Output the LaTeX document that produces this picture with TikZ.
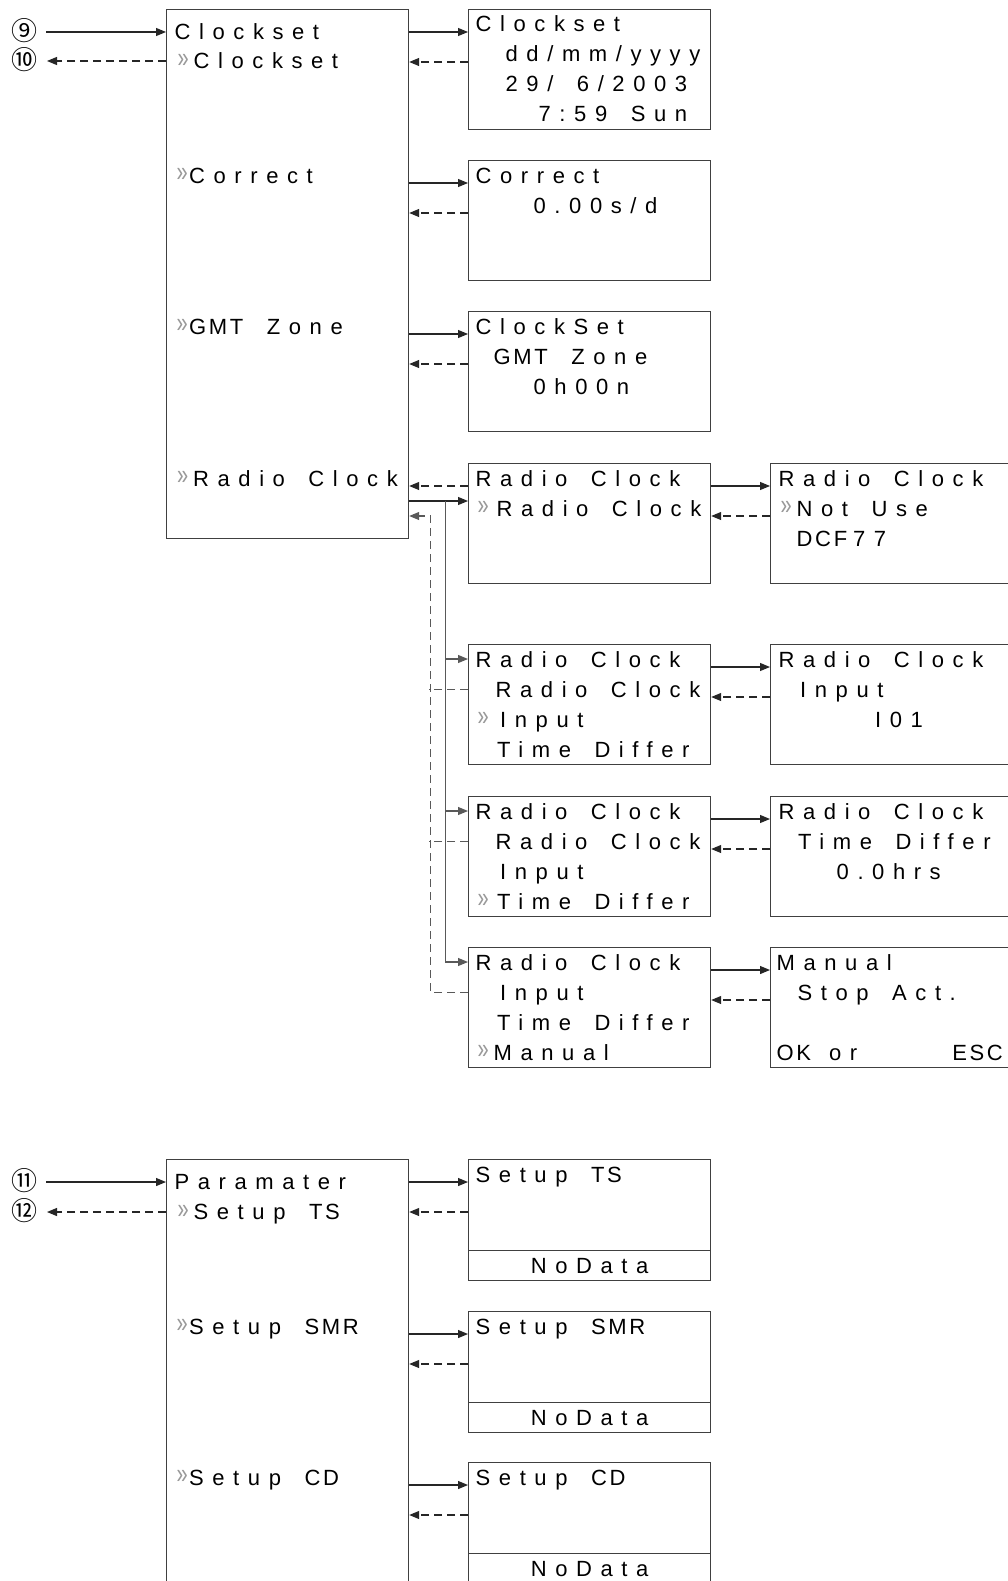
\documentclass[tikz,border=0pt]{standalone}
\usepackage{fontspec}
\usepackage{graphicx}
\usetikzlibrary{arrows.meta,calc}
\newfontfamily\lcd{Liberation Sans}[LetterSpace=39, WordSpace=1.6]
\newfontfamily\lcdt{Liberation Sans}[LetterSpace=12, WordSpace=1.6]
\newfontfamily\plainfont{Liberation Sans}
\newfontfamily\circfont{Noto Sans CJK SC}
\newcommand\tg[1]{{\lcdt #1}\hspace{6pt}}
\newcommand\selm{\raisebox{1.5pt}{\scalebox{1.0}[1.43]{»}}}
\begin{document}
\begin{tikzpicture}[x=1pt,y=-1pt,
  box/.style={draw=black!75, line width=1.2pt, rectangle, anchor=north west,
    minimum width=242pt, minimum height=120pt, inner sep=0pt},
  txt/.style={anchor=base west, inner sep=0pt, font={\fontsize{22}{26}\selectfont\lcd}},
  sel/.style={anchor=base west, inner sep=0pt, text=black!40, font={\fontsize{20}{24}\selectfont\plainfont}},
  circ/.style={anchor=center, inner sep=0pt, font={\fontsize{26}{30}\selectfont\circfont}},
  conn/.style={line width=1.1pt, draw=black!85, -{Triangle[length=10pt,width=8pt]}},
  back/.style={conn, dash pattern=on 8pt off 5pt},
  bus/.style={line width=1.1pt, draw=black!65},
  dbus/.style={bus, dash pattern=on 8pt off 5pt},
]
\useasboundingbox (0,0) rectangle (1008,1581);
\fill[white] (0,0) rectangle (1008,1581);

% ---------- boxes ----------
\node[box, minimum height=529pt] (L1) at (166,9) {};
\node[box] (R1) at (468,9) {};
\node[box] (R2) at (468,160) {};
\node[box] (R3) at (468,311) {};
\node[box] (R4) at (468,463) {};
\node[box] (R5) at (468,644) {};
\node[box] (R6) at (468,796) {};
\node[box] (R7) at (468,947) {};
\node[box] (Q4) at (770,463) {};
\node[box] (Q5) at (770,644) {};
\node[box] (Q6) at (770,796) {};
\node[box] (Q7) at (770,947) {};

\node[box, minimum height=440pt] (L2) at (166,1159) {};
\node[box, minimum height=121pt] (S1) at (468,1159) {};
\node[box, minimum height=121pt] (S2) at (468,1311) {};
\node[box, minimum height=121pt] (S3) at (468,1462) {};
\node[box, anchor=south west, minimum height=30pt, font={\fontsize{22}{26}\selectfont\lcd}] (S1n) at (S1.south west) {NoData};
\node[box, anchor=south west, minimum height=30pt, font={\fontsize{22}{26}\selectfont\lcd}] (S2n) at (S2.south west) {NoData};
\node[box, anchor=south west, minimum height=30pt, font={\fontsize{22}{26}\selectfont\lcd}] (S3n) at (S3.south west) {NoData};

% ---------- circled numbers ----------
\node[circ] (n9) at (24,31) {⑨};
\node[circ] (n10) at (24,60) {⑩};
\node[circ] (n11) at (24,1181) {⑪};
\node[circ] (n12) at (24,1211) {⑫};
\coordinate (c9) at (46,32);
\coordinate (c10) at (47,61);
\coordinate (c11) at (46,1182);
\coordinate (c12) at (47,1212);

% ---------- texts: left box 1 ----------
\node[txt] (l1a) at (174.5,39.5) {Clockset};
\node[sel] (l1bm) at (177.5,69) {\selm};
\node[txt] (l1b) at (193.5,69) {Clockset};
\node[sel] (l1cm) at (176.5,183) {\selm};
\node[txt] (l1c) at (189,183) {Correct};
\node[sel] (l1dm) at (176.5,334) {\selm};
\node[txt] (l1d) at (189,334) {{\lcdt GMT} Zone};
\node[sel] (l1em) at (177,486) {\selm};
\node[txt] (l1e) at (193,486) {Radio Clock};

% ---------- texts: column 1 ----------
\node[txt] (r1a) at (475.5,32) {Clockset};
\node[txt] (r1b) at (505.5,62) {dd/mm/yyyy};
\node[txt] (r1c) at (505.5,92) {29/ 6/2003};
\node[txt] (r1d) at (538.5,122) {7:59 Sun};

\node[txt] (r2a) at (475.5,183) {Correct};
\node[txt] (r2b) at (533.5,213) {0.00s/d};

\node[txt] (r3a) at (475.5,334) {ClockSet};
\node[txt] (r3b) at (493.5,364) {{\lcdt GMT} Zone};
\node[txt] (r3c) at (533.5,394) {0h00n};

\node[txt] (r4a) at (475.5,486) {Radio Clock};
\node[sel] (r4bm) at (477.5,516) {\selm};
\node[txt] (r4b) at (496.5,516) {Radio Clock};

\node[txt] (r5a) at (475.5,667) {Radio Clock};
\node[txt] (r5b) at (495.5,697) {Radio Clock};
\node[sel] (r5cm) at (477.5,727) {\selm};
\node[txt] (r5c) at (500,727) {Input};
\node[txt] (r5d) at (497,757) {Time Differ};

\node[txt] (r6a) at (475.5,819) {Radio Clock};
\node[txt] (r6b) at (495.5,849) {Radio Clock};
\node[txt] (r6c) at (500,879) {Input};
\node[sel] (r6dm) at (477.5,909) {\selm};
\node[txt] (r6d) at (497,909) {Time Differ};

\node[txt] (r7a) at (475.5,970) {Radio Clock};
\node[txt] (r7b) at (500,1000) {Input};
\node[txt] (r7c) at (497,1030) {Time Differ};
\node[sel] (r7dm) at (477.5,1060) {\selm};
\node[txt] (r7d) at (493.5,1060) {Manual};

% ---------- texts: column 2 ----------
\node[txt] (q4a) at (778.5,486) {Radio Clock};
\node[sel] (q4bm) at (780.5,516) {\selm};
\node[txt] (q4b) at (796.5,516) {Not Use};
\node[txt] (q4c) at (796.5,546) {\tg{DCF}77};

\node[txt] (q5a) at (778.5,667) {Radio Clock};
\node[txt] (q5b) at (800,697) {Input};
\node[txt] (q5c) at (875,727) {I01};

\node[txt] (q6a) at (778.5,819) {Radio Clock};
\node[txt] (q6b) at (798,849) {Time Differ};
\node[txt] (q6c) at (836.5,879) {0.0hrs};

\node[txt] (q7a) at (776.5,970) {Manual};
\node[txt] (q7b) at (797.5,1000) {Stop Act.};
\node[txt] (q7c) at (776.5,1060) {{\lcdt OK}\hspace{18pt}or\hspace{95pt}{\lcdt ESC}};

% ---------- texts: bottom ----------
\node[txt] (l2a) at (174.5,1189.5) {Paramater};
\node[sel] (l2bm) at (177.5,1219.5) {\selm};
\node[txt] (l2b) at (193.5,1219.5) {Setup \tg{TS}};
\node[sel] (l2cm) at (176.5,1334) {\selm};
\node[txt] (l2c) at (189,1334) {Setup \tg{SMR}};
\node[sel] (l2dm) at (176.5,1485) {\selm};
\node[txt] (l2d) at (189,1485) {Setup \tg{CD}};

\node[txt] (s1a) at (475.5,1182) {Setup \tg{TS}};
\node[txt] (s2a) at (475.5,1334) {Setup \tg{SMR}};
\node[txt] (s3a) at (475.5,1485) {Setup \tg{CD}};

% ---------- connector anchors ----------
\foreach \b in {R1,R2,R3,R4,R5,R6,R7,Q4,Q5,Q6,Q7,S1,S2,S3}{
  \coordinate (\b-s) at ($(\b.north west)+(0,23)$);
  \coordinate (\b-d) at ($(\b.north west)+(0,53)$);
}
\coordinate (R4-m) at ($(R4.north west)+(0,38)$);
\foreach \b in {R5,R6,R7}{
  \coordinate (\b-a) at ($(\b.north west)+(0,15)$);
  \coordinate (\b-b) at ($(\b.north west)+(0,45.5)$);
}
\coordinate (busx) at (445.7,0);
\coordinate (dbx) at (430.7,0);

% ---------- connectors: entry ----------
\draw[conn] (c9) -- (c9 -| L1.west);
\draw[back] (c10 -| L1.west) -- (c10);
\draw[conn] (c11) -- (c11 -| L2.west);
\draw[back] (c12 -| L2.west) -- (c12);

% ---------- connectors: main menu ----------
\foreach \b in {R1,R2,R3}{
  \draw[conn] (L1.east |- \b-s) -- (\b-s);
  \draw[back] (\b-d) -- (L1.east |- \b-d);
}
\draw[back] (R4-s) -- (L1.east |- R4-s);
\draw[conn] (L1.east |- R4-m) -- (R4-m);
\draw[conn, draw=black!65] (busx |- R4-m) -- (busx |- R7-a) -- (R7-a);
\draw[conn, draw=black!65] (busx |- R5-a) -- (R5-a);
\draw[conn, draw=black!65] (busx |- R6-a) -- (R6-a);
\draw[back, draw=black!65] (R7-b) -- (dbx |- R7-b) -- (dbx |- R4-d) -- (L1.east |- R4-d);
\draw[dbus] (R5-b) -- ([xshift=-2pt]dbx |- R5-b);
\draw[dbus] (R6-b) -- ([xshift=-2pt]dbx |- R6-b);

% ---------- connectors: second column ----------
\draw[conn] (R4.east |- Q4-s) -- (Q4-s);
\draw[back] (Q4-d) -- (R4.east |- Q4-d);
\draw[conn] (R5.east |- Q5-s) -- (Q5-s);
\draw[back] (Q5-d) -- (R5.east |- Q5-d);
\draw[conn] (R6.east |- Q6-s) -- (Q6-s);
\draw[back] (Q6-d) -- (R6.east |- Q6-d);
\draw[conn] (R7.east |- Q7-s) -- (Q7-s);
\draw[back] (Q7-d) -- (R7.east |- Q7-d);

% ---------- connectors: parameter menu ----------
\foreach \b in {S1,S2,S3}{
  \draw[conn] (L2.east |- \b-s) -- (\b-s);
  \draw[back] (\b-d) -- (L2.east |- \b-d);
}
\end{tikzpicture}
\end{document}
